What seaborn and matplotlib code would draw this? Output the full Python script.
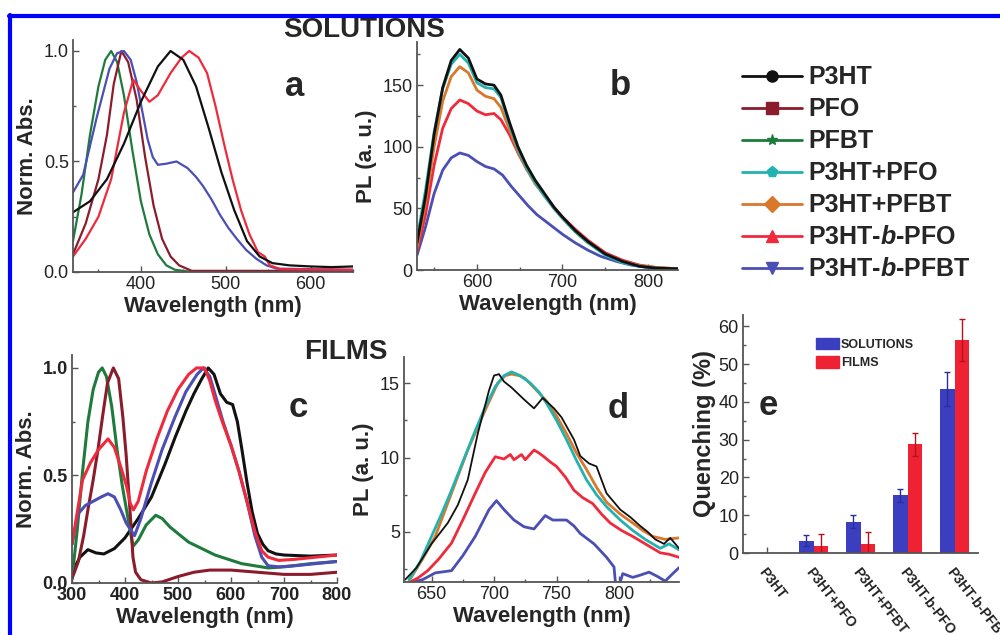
import numpy as np
import pandas as pd
import matplotlib
matplotlib.use("Agg")
import matplotlib.pyplot as plt
from matplotlib.lines import Line2D
from matplotlib.patches import Patch
from matplotlib.ticker import MultipleLocator
from matplotlib import font_manager
import seaborn as sns

# -------------------------------
# Data
# -------------------------------

samples = ["P3HT", "PFO", "PFBT", "P3HT+PFO", "P3HT+PFBT", "P3HT-b-PFO", "P3HT-b-PFBT"]
legend_labels = ["P3HT", "PFO", "PFBT", "P3HT+PFO", "P3HT+PFBT",
                 "P3HT-$\\mathit{b}$-PFO", "P3HT-$\\mathit{b}$-PFBT"]
colors = ["#111111", "#8B1C2C", "#1E7B3C", "#22B3B0", "#D9772B", "#EE2A3C", "#4B4FB3"]
markers = ["o", "s", "*", "p", "D", "^", "v"]

# panel a : solution absorption
a_p3ht_nm = [320, 340, 360, 380, 400, 420, 435, 450, 465, 480, 495, 510, 525, 540, 555, 575, 600, 625, 650]
a_p3ht = [0.27, 0.32, 0.42, 0.58, 0.77, 0.93, 1.0, 0.96, 0.84, 0.65, 0.45, 0.28, 0.14, 0.07, 0.04, 0.03, 0.025, 0.022, 0.025]
a_pfo_nm = [320, 335, 350, 360, 368, 377, 385, 395, 405, 415, 425, 435, 445, 460, 650]
a_pfo = [0.08, 0.22, 0.42, 0.62, 0.85, 1.0, 0.95, 0.78, 0.52, 0.30, 0.15, 0.07, 0.03, 0.005, 0.005]
a_pfbt_nm = [320, 330, 340, 350, 358, 365, 372, 380, 390, 400, 410, 420, 430, 440, 460, 650]
a_pfbt = [0.14, 0.35, 0.62, 0.84, 0.96, 1.0, 0.95, 0.80, 0.55, 0.32, 0.17, 0.08, 0.03, 0.01, 0.0, 0.0]
a_bpfo_nm = [320, 335, 350, 365, 380, 391, 400, 410, 420, 435, 448, 457, 468, 478, 488, 498, 508, 518, 528, 538, 546, 552, 565, 650]
a_bpfo = [0.07, 0.15, 0.25, 0.42, 0.72, 0.87, 0.82, 0.77, 0.80, 0.90, 0.97, 1.0, 0.97, 0.90, 0.75, 0.58, 0.42, 0.28, 0.17, 0.09, 0.07, 0.03, 0.012, 0.01]
a_bpfbt_nm = [320, 332, 348, 363, 372, 380, 388, 395, 402, 408, 414, 420, 430, 442, 455, 465, 473, 483, 493, 503, 513, 524, 536, 548, 560, 650]
a_bpfbt = [0.36, 0.44, 0.70, 0.92, 0.99, 1.0, 0.96, 0.86, 0.72, 0.60, 0.52, 0.485, 0.49, 0.50, 0.47, 0.43, 0.39, 0.33, 0.26, 0.20, 0.15, 0.10, 0.06, 0.03, 0.015, 0.01]

# panel b : solution PL
b_nm = [530, 540, 550, 560, 570, 580, 590, 600, 610, 620, 628, 638, 648, 658, 668, 678, 690, 700, 715, 730, 750, 770, 790, 810, 835]
b_p3ht = [22, 60, 110, 148, 170, 179, 172, 155, 151, 150, 142, 120, 100, 85, 73, 63, 51, 43, 32, 23, 13, 7, 3, 1.5, 1]
b_p3ht_pfo = [25, 65, 112, 147, 167, 175, 168, 152, 148, 147, 140, 118, 98, 83, 71, 61, 50, 42, 31, 22, 12, 6, 3, 1.5, 1]
b_p3ht_pfbt = [18, 55, 100, 137, 157, 165, 160, 146, 141, 139, 132, 114, 96, 82, 70, 61, 50, 42, 31, 22, 13, 7, 3.5, 2, 1]
b_bpfo = [15, 45, 85, 115, 131, 138, 135, 129, 126, 127, 122, 110, 95, 82, 71, 62, 51, 43, 33, 24, 14, 8, 4, 2, 1]
b_bpfbt_nm = [530, 540, 550, 560, 570, 580, 590, 600, 610, 620, 630, 640, 650, 660, 670, 685, 700, 715, 730, 745, 763, 780, 800, 835]
b_bpfbt = [12, 35, 62, 81, 91, 95, 93, 88, 84, 82, 77, 68, 60, 52, 45, 37, 29, 22, 16, 11, 7, 4, 2, 0.5]

# panel c : film absorption
c_p3ht_nm = [300, 315, 330, 345, 360, 380, 400, 425, 450, 475, 495, 515, 530, 545, 557, 568, 580, 592, 603, 612, 620, 630, 640, 650, 660, 670, 685, 700, 750, 800]
c_p3ht = [0.05, 0.12, 0.155, 0.14, 0.135, 0.16, 0.21, 0.30, 0.40, 0.55, 0.68, 0.80, 0.88, 0.95, 1.0, 0.97, 0.88, 0.84, 0.83, 0.75, 0.63, 0.47, 0.33, 0.23, 0.18, 0.15, 0.135, 0.13, 0.125, 0.13]
c_pfo_nm = [300, 312, 322, 330, 340, 349, 358, 367, 378, 388, 396, 402, 406, 411, 415, 420, 430, 450, 470, 500, 530, 560, 600, 650, 700, 750, 800]
c_pfo = [0.02, 0.10, 0.22, 0.34, 0.48, 0.62, 0.78, 0.93, 1.0, 0.95, 0.77, 0.60, 0.46, 0.28, 0.12, 0.05, 0.015, 0.0, 0.005, 0.03, 0.05, 0.06, 0.06, 0.05, 0.04, 0.04, 0.05]
c_pfbt_nm = [300, 310, 320, 330, 340, 350, 357, 365, 375, 385, 395, 405, 415, 425, 440, 458, 470, 485, 500, 520, 545, 570, 595, 620, 645, 670, 700, 750, 800]
c_pfbt = [0.02, 0.25, 0.52, 0.75, 0.90, 0.98, 1.0, 0.96, 0.82, 0.62, 0.45, 0.31, 0.17, 0.20, 0.27, 0.315, 0.30, 0.26, 0.23, 0.19, 0.16, 0.13, 0.11, 0.09, 0.08, 0.07, 0.075, 0.09, 0.10]
c_bpfo_nm = [300, 310, 320, 335, 350, 368, 380, 392, 403, 410, 416, 425, 440, 460, 480, 500, 520, 535, 550, 560, 570, 585, 600, 615, 630, 645, 658, 670, 690, 720, 760, 800]
c_bpfo = [0.18, 0.33, 0.48, 0.56, 0.62, 0.67, 0.63, 0.54, 0.45, 0.37, 0.34, 0.38, 0.52, 0.67, 0.80, 0.90, 0.97, 1.0, 1.0, 0.94, 0.85, 0.74, 0.64, 0.52, 0.38, 0.24, 0.15, 0.12, 0.105, 0.11, 0.12, 0.13]
c_bpfbt_nm = [300, 311, 325, 340, 355, 368, 380, 392, 402, 410, 418, 430, 449, 470, 494, 515, 536, 548, 560, 572, 585, 600, 615, 630, 645, 658, 670, 690, 720, 760, 800]
c_bpfbt = [0.18, 0.32, 0.36, 0.38, 0.40, 0.415, 0.40, 0.34, 0.28, 0.25, 0.22, 0.30, 0.46, 0.62, 0.77, 0.89, 0.97, 1.0, 0.96, 0.86, 0.75, 0.64, 0.52, 0.38, 0.22, 0.12, 0.08, 0.075, 0.08, 0.09, 0.10]

# panel d : film PL
d_p3ht_nm = [629, 638, 650, 663, 671, 679, 687, 696, 700, 704, 708, 714, 724, 732, 739, 748, 754, 758, 764, 769, 776, 782, 790, 796, 801, 809, 817, 823, 829, 836, 841, 848]
d_p3ht = [1.8, 2.6, 4.2, 5.6, 6.8, 8.5, 11.6, 14.5, 15.5, 15.6, 15.1, 14.7, 13.9, 13.3, 14.0, 13.3, 12.7, 12.1, 11.2, 10.1, 9.6, 9.4, 7.6, 7.0, 6.5, 6.0, 5.4, 5.0, 4.5, 4.2, 4.6, 3.9]
d_p3ht_pfo_nm = [632, 641, 650, 658, 666, 675, 685, 693, 701, 708, 714, 721, 729, 736, 742, 750, 758, 766, 774, 782, 790, 801, 811, 821, 833, 840, 848]
d_p3ht_pfo = [1.8, 3.0, 4.7, 6.2, 7.8, 9.7, 11.8, 13.4, 14.75, 15.5, 15.75, 15.5, 15.0, 14.4, 13.65, 12.5, 11.2, 9.8, 8.5, 7.5, 6.7, 5.8, 5.1, 4.5, 3.9, 4.2, 3.8]
d_p3ht_pfbt_nm = [632, 643, 653, 666, 679, 692, 703, 709, 714, 720, 725, 733, 742, 750, 758, 766, 774, 782, 790, 801, 811, 819, 827, 837, 848]
d_p3ht_pfbt = [1.7, 3.2, 4.7, 7.6, 10.5, 13.0, 15.0, 15.5, 15.6, 15.5, 15.3, 14.6, 13.8, 12.8, 11.6, 10.3, 9.2, 8.0, 7.0, 6.2, 5.6, 5.1, 4.7, 4.5, 4.6]
d_bpfo_nm = [632, 639, 647, 656, 666, 675, 685, 693, 701, 708, 713, 716, 722, 725, 732, 736, 740, 745, 750, 757, 764, 771, 779, 786, 793, 802, 811, 821, 833, 840, 848]
d_bpfo = [1.6, 1.9, 2.4, 3.2, 4.25, 5.8, 7.6, 9.0, 10.05, 9.9, 10.2, 9.85, 10.2, 9.85, 10.5, 10.3, 10.05, 9.7, 9.4, 8.7, 7.8, 7.3, 6.9, 6.2, 5.6, 5.1, 4.7, 4.2, 3.6, 3.5, 3.3]
d_bpfbt_nm = [629, 643, 653, 666, 675, 685, 696, 702, 708, 716, 724, 732, 741, 747, 752, 758, 764, 769, 780, 790, 796, 798, 803, 811, 817, 824, 831, 837, 843, 848]
d_bpfbt = [1.5, 1.8, 2.25, 2.4, 3.4, 4.7, 6.5, 7.1, 6.5, 5.8, 5.35, 5.2, 6.1, 5.8, 5.8, 5.8, 5.4, 4.9, 4.2, 3.3, 2.65, 0.8, 2.2, 1.95, 2.1, 2.3, 2.0, 1.7, 2.2, 2.6]

# panel e : quenching
e_samples = ["P3HT", "P3HT+PFO", "P3HT+PFBT", "P3HT-b-PFO", "P3HT-b-PFBT"]
e_solutions = [0.0, 3.3, 8.3, 15.3, 43.5]
e_solutions_err = [0.0, 1.5, 1.7, 1.7, 4.5]
e_films = [0.0, 2.0, 2.5, 28.8, 56.3]
e_films_err = [0.0, 3.0, 3.0, 3.0, 5.5]

# -------------------------------
# Style
# -------------------------------

sns.set_theme(style="ticks")
names = {f.name for f in font_manager.fontManager.ttflist}
narrow = "Liberation Sans Narrow" if "Liberation Sans Narrow" in names else "Liberation Sans"
plt.rcParams["font.family"] = ["Liberation Sans", "DejaVu Sans"]
plt.rcParams["mathtext.fontset"] = "custom"
plt.rcParams["mathtext.it"] = "Liberation Sans:italic:bold"
plt.rcParams["mathtext.rm"] = "Liberation Sans:bold"

palette = dict(zip(samples, colors))
spine_col = "#555555"
tick_col = "#222222"


def long_frame(pieces):
    rows = []
    for name, nm, val in pieces:
        rows.append(pd.DataFrame({"nm": nm, "val": val, "sample": name}))
    return pd.concat(rows, ignore_index=True)


def style_axes(ax, bold_ticks=False, tick_size=13):
    for side in ["top", "right"]:
        ax.spines[side].set_visible(False)
    for side in ["left", "bottom"]:
        ax.spines[side].set_color(spine_col)
        ax.spines[side].set_linewidth(1.3)
    ax.tick_params(which="both", direction="in", color=spine_col, width=1.0)
    ax.tick_params(which="major", length=4)
    ax.tick_params(which="minor", length=2.5)
    ax.tick_params(axis="both", labelsize=tick_size, labelcolor=tick_col, pad=3)
    for lab in ax.get_xticklabels() + ax.get_yticklabels():
        lab.set_fontfamily(narrow if not bold_ticks else "Liberation Sans")
        if bold_ticks:
            lab.set_fontweight("bold")
    ax.set_facecolor("white")


def draw_lines(ax, pieces, lw):
    df = long_frame(pieces)
    order = [p[0] for p in pieces]
    sns.lineplot(data=df, x="nm", y="val", hue="sample", hue_order=order,
                 palette=palette, sort=False, estimator=None, linewidth=lw,
                 legend=False, ax=ax)
    ax.set_xlabel("Wavelength (nm)", fontsize=16, fontweight="bold", labelpad=2)


fig = plt.figure(figsize=(10, 6.35), dpi=100)
fig.patch.set_facecolor("white")

# -------------------------------
# Panel a
# -------------------------------

ax_a = fig.add_axes([0.073, 0.5717, 0.28, 0.3654])
draw_lines(ax_a, [
    ("PFBT", a_pfbt_nm, a_pfbt),
    ("PFO", a_pfo_nm, a_pfo),
    ("P3HT-b-PFBT", a_bpfbt_nm, a_bpfbt),
    ("P3HT-b-PFO", a_bpfo_nm, a_bpfo),
    ("P3HT", a_p3ht_nm, a_p3ht),
], lw=1.6)
ax_a.set_xlim(320, 650)
ax_a.set_ylim(0, 1.05)
ax_a.xaxis.set_major_locator(MultipleLocator(100))
ax_a.xaxis.set_minor_locator(MultipleLocator(50))
ax_a.yaxis.set_major_locator(MultipleLocator(0.5))
ax_a.yaxis.set_minor_locator(MultipleLocator(0.25))
ax_a.set_ylabel("Norm. Abs.", fontsize=16, fontweight="bold", labelpad=4)
style_axes(ax_a)

# -------------------------------
# Panel b
# -------------------------------

ax_b = fig.add_axes([0.417, 0.5748, 0.261, 0.359])
draw_lines(ax_b, [
    ("P3HT-b-PFBT", b_bpfbt_nm, b_bpfbt),
    ("P3HT-b-PFO", b_nm, b_bpfo),
    ("P3HT+PFBT", b_nm, b_p3ht_pfbt),
    ("P3HT+PFO", b_nm, b_p3ht_pfo),
    ("P3HT", b_nm, b_p3ht),
], lw=2.0)
ax_b.set_xlim(530, 835)
ax_b.set_ylim(0, 185)
ax_b.xaxis.set_major_locator(MultipleLocator(100))
ax_b.xaxis.set_minor_locator(MultipleLocator(50))
ax_b.yaxis.set_major_locator(MultipleLocator(50))
ax_b.yaxis.set_minor_locator(MultipleLocator(25))
ax_b.set_ylabel("PL (a. u.)", fontsize=16, fontweight="bold", labelpad=4)
style_axes(ax_b)

# -------------------------------
# Panel c
# -------------------------------

ax_c = fig.add_axes([0.072, 0.0819, 0.265, 0.359])
draw_lines(ax_c, [
    ("P3HT", c_p3ht_nm, c_p3ht),
    ("PFBT", c_pfbt_nm, c_pfbt),
    ("PFO", c_pfo_nm, c_pfo),
    ("P3HT-b-PFBT", c_bpfbt_nm, c_bpfbt),
    ("P3HT-b-PFO", c_bpfo_nm, c_bpfo),
], lw=2.2)
ax_c.set_xlim(300, 800)
ax_c.set_ylim(0, 1.06)
ax_c.xaxis.set_major_locator(MultipleLocator(100))
ax_c.xaxis.set_minor_locator(MultipleLocator(50))
ax_c.yaxis.set_major_locator(MultipleLocator(0.5))
ax_c.yaxis.set_minor_locator(MultipleLocator(0.25))
ax_c.set_ylabel("Norm. Abs.", fontsize=16, fontweight="bold", labelpad=4)
style_axes(ax_c, bold_ticks=True, tick_size=13)

# -------------------------------
# Panel d
# -------------------------------

ax_d = fig.add_axes([0.404, 0.0835, 0.275, 0.3543])
draw_lines(ax_d, [
    ("P3HT-b-PFBT", d_bpfbt_nm, d_bpfbt),
    ("P3HT-b-PFO", d_bpfo_nm, d_bpfo),
    ("P3HT+PFBT", d_p3ht_pfbt_nm, d_p3ht_pfbt),
    ("P3HT+PFO", d_p3ht_pfo_nm, d_p3ht_pfo),
], lw=2.0)
sns.lineplot(x=d_p3ht_nm, y=d_p3ht, color=palette["P3HT"], linewidth=1.3,
             sort=False, estimator=None, ax=ax_d)
ax_d.set_xlabel("Wavelength (nm)", fontsize=16, fontweight="bold", labelpad=2)
ax_d.set_xlim(628, 848)
ax_d.set_ylim(1.64, 16.75)
ax_d.xaxis.set_major_locator(MultipleLocator(50))
ax_d.xaxis.set_minor_locator(MultipleLocator(25))
ax_d.yaxis.set_major_locator(MultipleLocator(5))
ax_d.yaxis.set_minor_locator(MultipleLocator(2.5))
ax_d.set_ylabel("PL (a. u.)", fontsize=16, fontweight="bold", labelpad=4)
style_axes(ax_d)

# -------------------------------
# Panel e
# -------------------------------

ax_e = fig.add_axes([0.743, 0.129, 0.235, 0.375])
bars = pd.DataFrame({
    "sample": e_samples * 2,
    "value": e_solutions + e_films,
    "state": ["SOLUTIONS"] * len(e_samples) + ["FILMS"] * len(e_samples),
})
bar_cols = {"SOLUTIONS": "#3B3FBF", "FILMS": "#EE2233"}
err_cols = {"SOLUTIONS": "#2A2E9A", "FILMS": "#B8101E"}
sns.barplot(data=bars, x="sample", y="value", hue="state", order=e_samples,
            hue_order=["SOLUTIONS", "FILMS"], palette=bar_cols, width=0.6,
            saturation=1, errorbar=None, linewidth=0, legend=False, ax=ax_e)
for cont, state, errs in zip(ax_e.containers, ["SOLUTIONS", "FILMS"],
                             [e_solutions_err, e_films_err]):
    for rect, err in zip(cont.patches, errs):
        if err > 0:
            ax_e.errorbar(rect.get_x() + rect.get_width() / 2, rect.get_height(),
                          yerr=err, fmt="none", ecolor=err_cols[state],
                          elinewidth=1.0, capsize=2.5, capthick=1.0)
ax_e.set_xlim(-0.5, 4.5)
ax_e.set_ylim(0, 63)
ax_e.yaxis.set_major_locator(MultipleLocator(10))
ax_e.yaxis.set_minor_locator(MultipleLocator(5))
ax_e.set_xlabel("")
ax_e.set_ylabel("Quenching (%)", fontsize=17, fontweight="bold", labelpad=2)
style_axes(ax_e)
ax_e.set_xticks(range(len(e_samples)))
ax_e.set_xticklabels(e_samples, rotation=-52, ha="left", va="top",
                     rotation_mode="anchor", fontsize=10, fontweight="bold",
                     family=narrow)
ax_e.tick_params(axis="x", pad=9)
ax_e.legend(handles=[Patch(color=bar_cols["SOLUTIONS"], label="SOLUTIONS"),
                     Patch(color=bar_cols["FILMS"], label="FILMS")],
            loc="upper left", bbox_to_anchor=(0.816, 0.468),
            bbox_transform=fig.transFigure, frameon=False, borderpad=0,
            borderaxespad=0, handlelength=1.8, handleheight=1.0,
            handletextpad=0.2, labelspacing=0.45,
            prop={"family": narrow, "weight": "bold", "size": 9})

# -------------------------------
# Series legend
# -------------------------------

handles = [Line2D([0], [0], color=c, marker=m, markersize=8, linewidth=2,
                  markeredgecolor=c, label=l)
           for c, m, l in zip(colors, markers, legend_labels)]
fig.legend(handles=handles, loc="upper left", bbox_to_anchor=(0.742, 0.897),
           frameon=False, borderpad=0, borderaxespad=0, handlelength=2.4,
           handletextpad=0.25, labelspacing=0.32,
           prop={"family": "Liberation Sans", "weight": "bold", "size": 18})

# -------------------------------
# Titles, panel letters, frame
# -------------------------------

fig.text(0.364, 0.953, "SOLUTIONS", ha="center", va="center",
         fontsize=20, fontweight="bold")
fig.text(0.346, 0.446, "FILMS", ha="center", va="center",
         fontsize=20, fontweight="bold")
for letter, x, y in [("a", 0.295, 0.849), ("b", 0.620, 0.850),
                     ("c", 0.298, 0.343), ("d", 0.618, 0.342), ("e", 0.768, 0.346)]:
    fig.text(x, y, letter, ha="center", va="baseline", fontsize=25,
             fontweight="bold")

fig.add_artist(Line2D([0.009, 1.0], [0.975, 0.975], color="#0000FF",
                      linewidth=3, transform=fig.transFigure))
fig.add_artist(Line2D([0.01, 0.01], [0.0, 0.977], color="#0000FF",
                      linewidth=3, transform=fig.transFigure))

fig.savefig("out.png", dpi=100, facecolor="white")
